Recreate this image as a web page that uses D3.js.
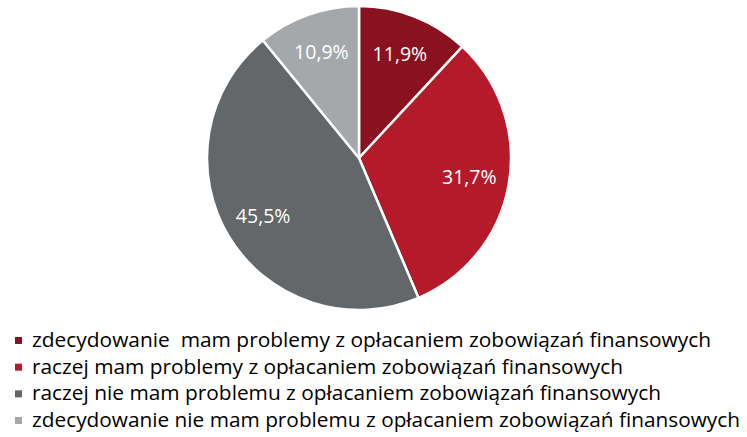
<!DOCTYPE html>
<html>
    <head>
        <meta charset="utf-8">
        <script src="https://d3js.org/d3.v7.min.js"></script>
        <style>
            body { margin: 0; background: #fff; }
            text { font-family: "Open Sans", sans-serif; }
        </style>
    </head>
    <body>
        <div id="container"></div>
        <script>
            // Data
            const categories = [
                "zdecydowanie  mam problemy z opłacaniem zobowiązań finansowych",
                "raczej mam problemy z opłacaniem zobowiązań finansowych",
                "raczej nie mam problemu z opłacaniem zobowiązań finansowych",
                "zdecydowanie nie mam problemu z opłacaniem zobowiązań finansowych"
            ]
            const values = [11.9, 31.7, 45.5, 10.9]
            const colors = ["#8a1120", "#b51a2a", "#636769", "#a5a8aa"]
            // legend text widths measured on the reference
            const legendWidths = [679, 591, 629, 708]

            const w = 747
            const h = 437
            const cx = 359
            const cy = 158
            const radius = 152

            const svg = d3.select("#container")
                .append("svg")
                .attr("width", w)
                .attr("height", h)

            const pie = d3.pie().sort(null).value(d => d)
            const arc = d3.arc().innerRadius(0).outerRadius(radius)
            const labelArc = d3.arc().innerRadius(112).outerRadius(112)

            const g = svg.append("g")
                .attr("transform", "translate(" + cx + "," + cy + ")")

            const slices = pie(values)

            g.selectAll("path")
                .data(slices)
                .enter()
                .append("path")
                .attr("d", arc)
                .attr("fill", (d, i) => colors[i])
                .attr("stroke", "#fff")
                .attr("stroke-width", 2.5)
                .attr("stroke-linejoin", "round")

            g.selectAll("text.label")
                .data(slices)
                .enter()
                .append("text")
                .attr("class", "label")
                .attr("transform", d => "translate(" + labelArc.centroid(d) + ")")
                .attr("text-anchor", "middle")
                .attr("dy", "0.35em")
                .attr("fill", "#fff")
                .style("font-size", "19.5px")
                .text(d => d3.format(".1f")(d.data).replace(".", ",") + "%")

            // Legend
            const legend = svg.append("g")
            const rowY = d3.scalePoint()
                .domain(d3.range(categories.length))
                .range([347, 427])

            const row = legend.selectAll("g")
                .data(categories)
                .enter()
                .append("g")
                .attr("transform", (d, i) => "translate(0," + rowY(i) + ")")

            row.append("rect")
                .attr("x", 15)
                .attr("y", -10)
                .attr("width", 7)
                .attr("height", 7)
                .attr("fill", (d, i) => colors[i])

            row.append("text")
                .attr("x", 32)
                .attr("y", 0)
                .attr("fill", "#000")
                .style("font-size", "19.5px")
                .attr("textLength", (d, i) => legendWidths[i])
                .attr("lengthAdjust", "spacingAndGlyphs")
                .style("white-space", "pre")
                .text(d => d)
        </script>
    </body>
</html>
